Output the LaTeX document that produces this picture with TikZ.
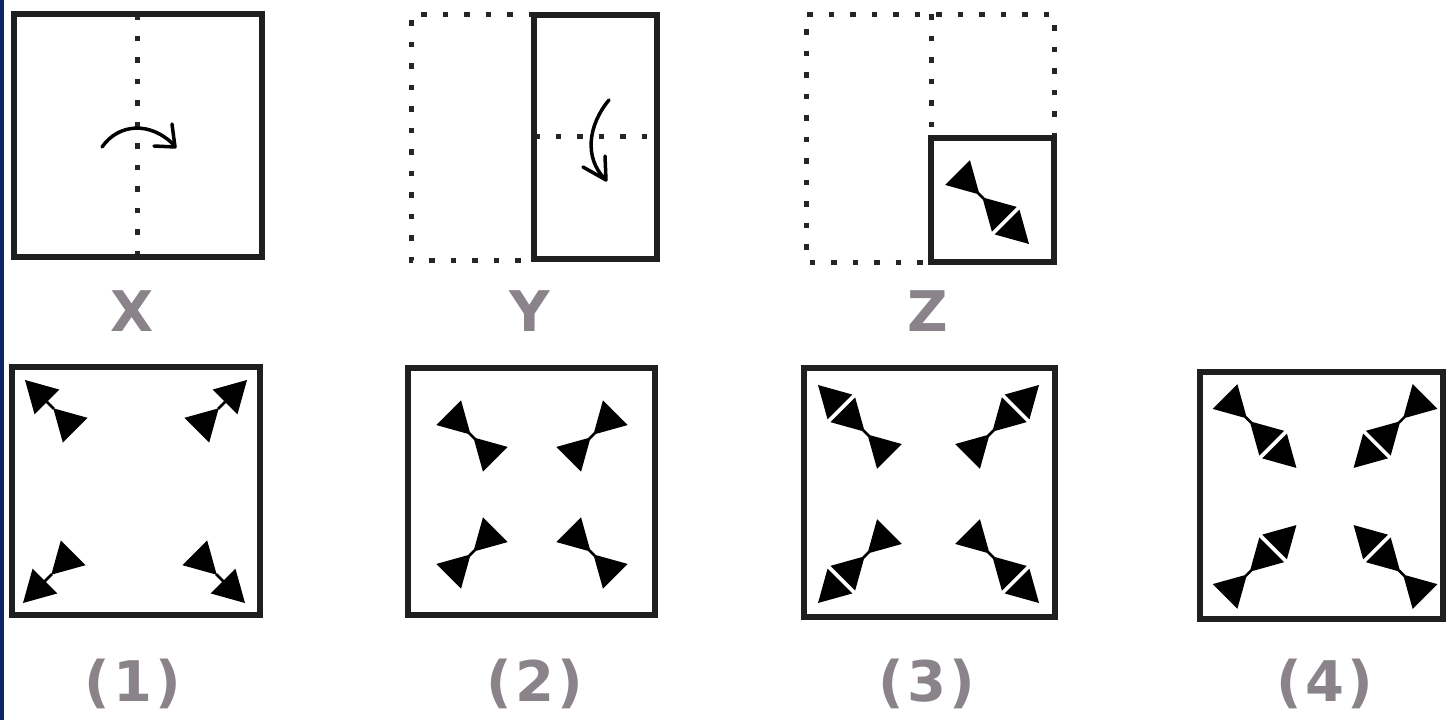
\documentclass[tikz,border=0pt]{standalone}
\usepackage{fontspec}
\setmainfont{DejaVu Sans}
\definecolor{labelgray}{RGB}{138,132,138}
\definecolor{navystrip}{RGB}{12,36,100}
\newcommand\triout[1]{\fill[symfill] ({-(#1)},0) -- ({-(#1)-31},17.5) -- ({-(#1)-31},-17.5) -- cycle;}
\newcommand\triin[1]{\fill[symfill] ({-(#1)},0) -- ({-(#1)+31},17.5) -- ({-(#1)+31},-17.5) -- cycle;}
\newcommand\markA{\draw[stem] (-30,0) -- (-41,0); \triout{0}\triout{40}}
\newcommand\markB{\draw[stem] (-4,0) -- (4,0); \triin{-2}\triout{2}}
\newcommand\markC{\draw[stem] (-64,0) -- (-72,0); \triout{0}\triin{66}\triout{70}}
\newcommand\markD{\draw[stem] (-29,0) -- (-37,0); \triin{31}\triout{35}\triin{101}}
\newcommand\placemark[4]{\begin{scope}[shift={(#1,#2)},rotate=#3]#4\end{scope}}
\begin{document}
\begin{tikzpicture}[x=1pt,y=-1pt,
  frame/.style={draw=black!88,line width=5.5pt},
  dots/.style={draw=black!85,line width=5pt,dash pattern=on 5.5pt off 16pt},
  foldarrow/.style={draw=black,line width=3.5pt,line cap=round,line join=round},
  symfill/.style={fill=black},
  stem/.style={draw=black,line width=2.5pt},
  lbl/.style={text=labelgray,font=\bfseries\fontsize{56}{60}\selectfont,anchor=base,inner sep=0pt}]
\useasboundingbox (0,0) rectangle (1446,720);
\fill[white] (0,0) rectangle (1446,720);
\fill[navystrip] (0,0) rectangle (3.5,720);

% ---- X ----
\draw[dots] (137,14) -- (137,257);
\draw[frame] (14,14) rectangle (262,257);
\draw[foldarrow] (102,147) .. controls (118,124) and (150,120) .. (175,146);
\draw[foldarrow] (172,124) -- (175,147) -- (154,146);

% ---- Y ----
\draw[dots] (534,14) -- (411,14) -- (411,260) -- (534,260);
\draw[dots] (534,136) -- (657,136);
\draw[frame] (534,15) rectangle (657,259);
\draw[foldarrow] (609,100) .. controls (588,125) and (584,158) .. (605,179);
\draw[foldarrow] (605,156) -- (606,180) -- (583,167);

% ---- Z ----
\draw[dots] (1054,138) -- (1054,14) -- (806,14) -- (806,262) -- (931,262);
\draw[dots] (931,14) -- (931,138);
\draw[frame] (931,138) rectangle (1054,262);
\placemark{1029}{244}{315}{\markC}

% ---- options ----
\draw[frame] (12,367) rectangle (260,615);
\placemark{25}{380}{135}{\markA}
\placemark{247}{380}{45}{\markA}
\placemark{23}{603}{225}{\markA}
\placemark{245}{603}{315}{\markA}

\draw[frame] (408,368) rectangle (655,615);
\placemark{472}{436}{135}{\markB}
\placemark{592}{436}{45}{\markB}
\placemark{472}{553}{225}{\markB}
\placemark{592}{553}{315}{\markB}

\draw[frame] (804,368) rectangle (1055,617);
\placemark{818}{385}{135}{\markC}
\placemark{1039}{385}{45}{\markC}
\placemark{818}{603}{225}{\markC}
\placemark{1039}{603}{315}{\markC}

\draw[frame] (1200,372) rectangle (1443,619);
\placemark{1225}{396.5}{135}{\markD}
\placemark{1425}{396.5}{45}{\markD}
\placemark{1225}{596.5}{225}{\markD}
\placemark{1425}{596.5}{315}{\markD}

% ---- labels ----
\node[lbl] (lx) at (132,331) {X};
\node[lbl] (ly) at (530,331) {Y};
\node[lbl] (lz) at (928,331) {Z};
\node[lbl] (l1) at (133,701) {(\kern3pt1\kern3pt)};
\node[lbl] (l2) at (535,701) {(\kern3pt2\kern3pt)};
\node[lbl] (l3) at (927,701) {(\kern3pt3\kern3pt)};
\node[lbl] (l4) at (1325,701) {(\kern3pt4\kern3pt)};
\end{tikzpicture}
\end{document}
